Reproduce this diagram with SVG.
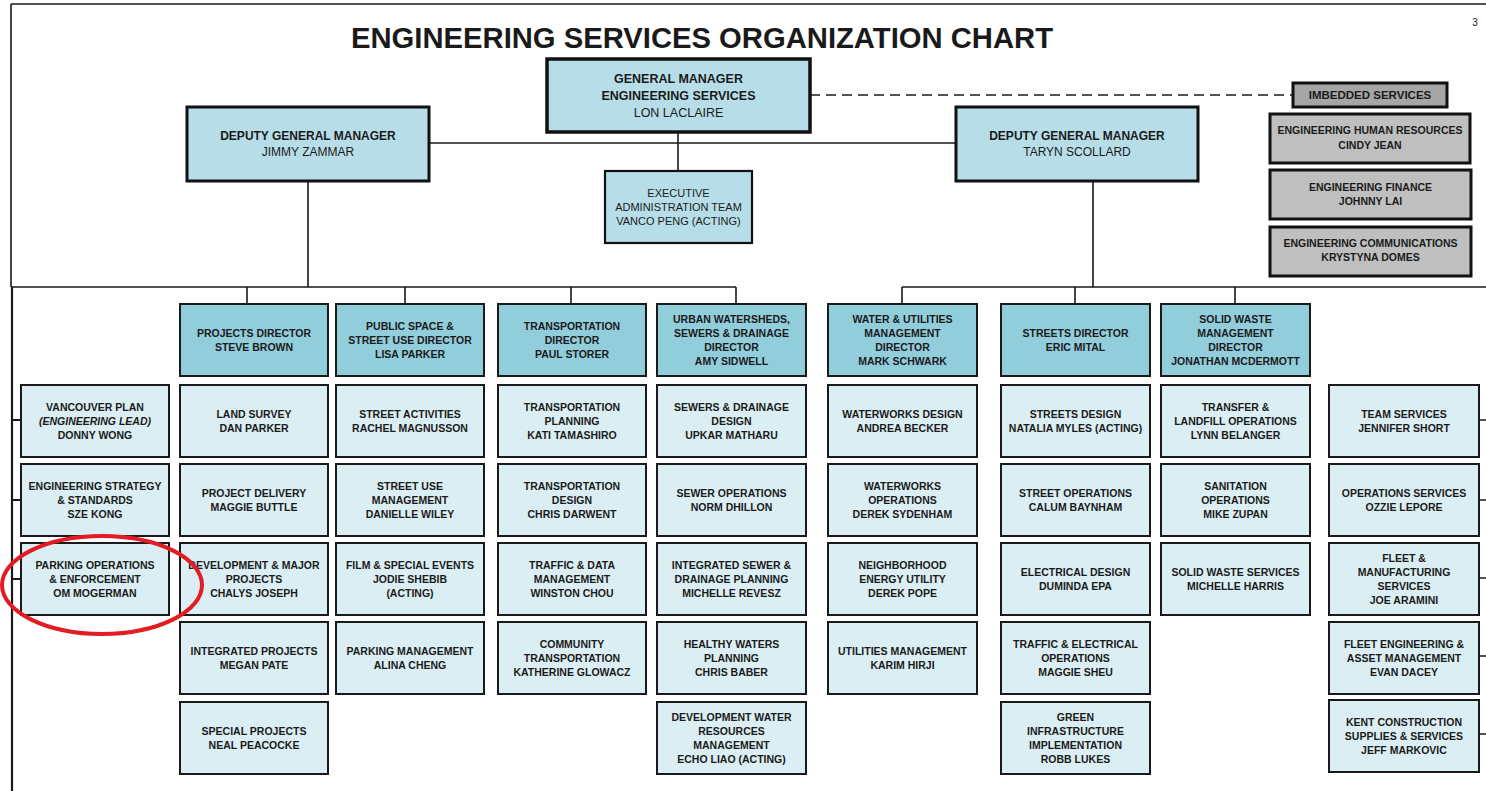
<svg xmlns="http://www.w3.org/2000/svg" width="1486" height="791" viewBox="0 0 1486 791">
<style>
text{font-family:"Liberation Sans",Arial,sans-serif;text-anchor:middle;fill:#1a1a1a}
.t{font-size:10.5px;font-weight:bold}
.dir{fill:#92cddc;stroke:#1a1a1a;stroke-width:2}
.sub{fill:#daeef3;stroke:#1a1a1a;stroke-width:2}
.top{fill:#b7dee8;stroke:#111;stroke-width:3}
.gray{fill:#bfbfbf;stroke:#111;stroke-width:3}
.ln{fill:none;stroke:#1a1a1a;stroke-width:1.6}
.hd{font-size:12.5px;font-weight:bold}
.hn{font-size:12.5px}
</style>
<rect width="1486" height="791" fill="#fff"/>
<text x="702" y="48" style="font-size:29px;font-weight:bold" textLength="702" lengthAdjust="spacingAndGlyphs">ENGINEERING SERVICES ORGANIZATION CHART</text>
<text x="1475" y="26" style="font-size:10px">3</text>
<g id="connectors">
<path class="ln" d="M11,4H1486M11,4V287M11,287H736M902,287H1486"/>
<path class="ln" style="stroke-width:2.2" d="M12,287V791M12,420H21M12,500H21M12,579H21"/>
<path class="ln" d="M247,287V304M405,287V304M571,287V304M736,287V304M902,287V304M1075,287V304M1235,287V304"/>
<path class="ln" d="M308,181V287M1093,181V287M429,143H956M678,132V171"/>
<path class="ln" d="M1479,420H1486M1479,500H1486M1479,578H1486M1479,656H1486M1479,734H1486"/>
<path class="ln" d="M810,95H1293" stroke-dasharray="10 6"/>
</g>
<g id="gm"><rect class="top" style="stroke-width:3.5" x="547" y="59" width="263" height="73"/>
<text class="hd" x="678.5" y="82.5">GENERAL MANAGER</text><text class="hd" x="678.5" y="99.5">ENGINEERING SERVICES</text><text class="hn" x="678.5" y="116.5">LON LACLAIRE</text></g>
<g id="dgm1"><rect class="top" x="187" y="107" width="242" height="74"/>
<text class="hd" style="font-size:12px" x="308" y="139.5">DEPUTY GENERAL MANAGER</text><text class="hn" style="font-size:12px" x="308" y="156">JIMMY ZAMMAR</text></g>
<g id="dgm2"><rect class="top" x="956" y="107" width="242" height="74"/>
<text class="hd" style="font-size:12px" x="1077" y="139.5">DEPUTY GENERAL MANAGER</text><text class="hn" style="font-size:12px" x="1077" y="156">TARYN SCOLLARD</text></g>
<g id="exec"><rect class="top" style="stroke-width:2.2" x="605" y="171" width="147" height="72"/>
<text style="font-size:11px" x="678.5" y="196.5">EXECUTIVE</text><text style="font-size:11px" x="678.5" y="210.5">ADMINISTRATION TEAM</text><text style="font-size:11px" x="678.5" y="224.5">VANCO PENG (ACTING)</text></g>
<g id="imbedded"><rect class="gray" style="fill:#a6a6a6" x="1293" y="83" width="154" height="24"/>
<text style="font-size:11.5px;font-weight:bold" x="1370" y="99">IMBEDDED SERVICES</text></g>
<g id="hr"><rect class="gray" x="1270" y="114" width="200" height="49"/>
<text class="t" x="1370" y="133.8">ENGINEERING HUMAN RESOURCES</text><text class="t" x="1370" y="148.8">CINDY JEAN</text></g>
<g id="finance"><rect class="gray" x="1270" y="170" width="201" height="49"/>
<text class="t" x="1370.5" y="191">ENGINEERING FINANCE</text><text class="t" x="1370.5" y="205">JOHNNY LAI</text></g>
<g id="comms"><rect class="gray" x="1270" y="227" width="201" height="49"/>
<text class="t" x="1370.5" y="246.8">ENGINEERING COMMUNICATIONS</text><text class="t" x="1370.5" y="261.3">KRYSTYNA DOMES</text></g>

<g id="d1"><rect class="dir" x="180" y="304" width="148" height="72"/><text class="t" x="254" y="336.8">PROJECTS DIRECTOR</text><text class="t" x="254" y="350.8">STEVE BROWN</text></g>
<g id="d2"><rect class="dir" x="336" y="304" width="148" height="72"/><text class="t" x="410" y="329.8">PUBLIC SPACE &amp;</text><text class="t" x="410" y="343.8">STREET USE DIRECTOR</text><text class="t" x="410" y="357.8">LISA PARKER</text></g>
<g id="d3"><rect class="dir" x="498" y="304" width="148" height="72"/><text class="t" x="572" y="329.8">TRANSPORTATION</text><text class="t" x="572" y="343.8">DIRECTOR</text><text class="t" x="572" y="357.8">PAUL STORER</text></g>
<g id="d4"><rect class="dir" x="657" y="304" width="149" height="72"/><text class="t" x="731.5" y="322.8">URBAN WATERSHEDS,</text><text class="t" x="731.5" y="336.8">SEWERS &amp; DRAINAGE</text><text class="t" x="731.5" y="350.8">DIRECTOR</text><text class="t" x="731.5" y="364.8">AMY SIDWELL</text></g>
<g id="d5"><rect class="dir" x="828" y="304" width="149" height="72"/><text class="t" x="902.5" y="322.8">WATER &amp; UTILITIES</text><text class="t" x="902.5" y="336.8">MANAGEMENT</text><text class="t" x="902.5" y="350.8">DIRECTOR</text><text class="t" x="902.5" y="364.8">MARK SCHWARK</text></g>
<g id="d6"><rect class="dir" x="1001" y="304" width="149" height="72"/><text class="t" x="1075.5" y="336.8">STREETS DIRECTOR</text><text class="t" x="1075.5" y="350.8">ERIC MITAL</text></g>
<g id="d7"><rect class="dir" x="1161" y="304" width="149" height="72"/><text class="t" x="1235.5" y="322.8">SOLID WASTE</text><text class="t" x="1235.5" y="336.8">MANAGEMENT</text><text class="t" x="1235.5" y="350.8">DIRECTOR</text><text class="t" x="1235.5" y="364.8">JONATHAN MCDERMOTT</text></g>

<g id="c0r1"><rect class="sub" x="21" y="385" width="148" height="72"/><text class="t" x="95" y="410.8">VANCOUVER PLAN</text><text class="t" x="95" y="424.8" font-style="italic">(ENGINEERING LEAD)</text><text class="t" x="95" y="438.8">DONNY WONG</text></g>
<g id="c0r2"><rect class="sub" x="21" y="464" width="148" height="72"/><text class="t" x="95" y="489.8">ENGINEERING STRATEGY</text><text class="t" x="95" y="503.8">&amp; STANDARDS</text><text class="t" x="95" y="517.8">SZE KONG</text></g>
<g id="c0r3"><rect class="sub" x="21" y="543" width="148" height="72"/><text class="t" x="95" y="568.8">PARKING OPERATIONS</text><text class="t" x="95" y="582.8">&amp; ENFORCEMENT</text><text class="t" x="95" y="596.8">OM MOGERMAN</text></g>

<g id="c1r1"><rect class="sub" x="180" y="385" width="148" height="72"/><text class="t" x="254" y="417.8">LAND SURVEY</text><text class="t" x="254" y="431.8">DAN PARKER</text></g>
<g id="c1r2"><rect class="sub" x="180" y="464" width="148" height="72"/><text class="t" x="254" y="496.8">PROJECT DELIVERY</text><text class="t" x="254" y="510.8">MAGGIE BUTTLE</text></g>
<g id="c1r3"><rect class="sub" x="180" y="543" width="148" height="72"/><text class="t" x="254" y="568.8">DEVELOPMENT &amp; MAJOR</text><text class="t" x="254" y="582.8">PROJECTS</text><text class="t" x="254" y="596.8">CHALYS JOSEPH</text></g>
<g id="c1r4"><rect class="sub" x="180" y="622" width="148" height="72"/><text class="t" x="254" y="654.8">INTEGRATED PROJECTS</text><text class="t" x="254" y="668.8">MEGAN PATE</text></g>
<g id="c1r5"><rect class="sub" x="180" y="702" width="148" height="72"/><text class="t" x="254" y="734.8">SPECIAL PROJECTS</text><text class="t" x="254" y="748.8">NEAL PEACOCKE</text></g>

<g id="c2r1"><rect class="sub" x="336" y="385" width="148" height="72"/><text class="t" x="410" y="417.8">STREET ACTIVITIES</text><text class="t" x="410" y="431.8">RACHEL MAGNUSSON</text></g>
<g id="c2r2"><rect class="sub" x="336" y="464" width="148" height="72"/><text class="t" x="410" y="489.8">STREET USE</text><text class="t" x="410" y="503.8">MANAGEMENT</text><text class="t" x="410" y="517.8">DANIELLE WILEY</text></g>
<g id="c2r3"><rect class="sub" x="336" y="543" width="148" height="72"/><text class="t" x="410" y="568.8">FILM &amp; SPECIAL EVENTS</text><text class="t" x="410" y="582.8">JODIE SHEBIB</text><text class="t" x="410" y="596.8">(ACTING)</text></g>
<g id="c2r4"><rect class="sub" x="336" y="622" width="148" height="72"/><text class="t" x="410" y="654.8">PARKING MANAGEMENT</text><text class="t" x="410" y="668.8">ALINA CHENG</text></g>

<g id="c3r1"><rect class="sub" x="498" y="385" width="148" height="72"/><text class="t" x="572" y="410.8">TRANSPORTATION</text><text class="t" x="572" y="424.8">PLANNING</text><text class="t" x="572" y="438.8">KATI TAMASHIRO</text></g>
<g id="c3r2"><rect class="sub" x="498" y="464" width="148" height="72"/><text class="t" x="572" y="489.8">TRANSPORTATION</text><text class="t" x="572" y="503.8">DESIGN</text><text class="t" x="572" y="517.8">CHRIS DARWENT</text></g>
<g id="c3r3"><rect class="sub" x="498" y="543" width="148" height="72"/><text class="t" x="572" y="568.8">TRAFFIC &amp; DATA</text><text class="t" x="572" y="582.8">MANAGEMENT</text><text class="t" x="572" y="596.8">WINSTON CHOU</text></g>
<g id="c3r4"><rect class="sub" x="498" y="622" width="148" height="72"/><text class="t" x="572" y="647.8">COMMUNITY</text><text class="t" x="572" y="661.8">TRANSPORTATION</text><text class="t" x="572" y="675.8">KATHERINE GLOWACZ</text></g>

<g id="c4r1"><rect class="sub" x="657" y="385" width="149" height="72"/><text class="t" x="731.5" y="410.8">SEWERS &amp; DRAINAGE</text><text class="t" x="731.5" y="424.8">DESIGN</text><text class="t" x="731.5" y="438.8">UPKAR MATHARU</text></g>
<g id="c4r2"><rect class="sub" x="657" y="464" width="149" height="72"/><text class="t" x="731.5" y="496.8">SEWER OPERATIONS</text><text class="t" x="731.5" y="510.8">NORM DHILLON</text></g>
<g id="c4r3"><rect class="sub" x="657" y="543" width="149" height="72"/><text class="t" x="731.5" y="568.8">INTEGRATED SEWER &amp;</text><text class="t" x="731.5" y="582.8">DRAINAGE PLANNING</text><text class="t" x="731.5" y="596.8">MICHELLE REVESZ</text></g>
<g id="c4r4"><rect class="sub" x="657" y="622" width="149" height="72"/><text class="t" x="731.5" y="647.8">HEALTHY WATERS</text><text class="t" x="731.5" y="661.8">PLANNING</text><text class="t" x="731.5" y="675.8">CHRIS BABER</text></g>
<g id="c4r5"><rect class="sub" x="657" y="702" width="149" height="72"/><text class="t" x="731.5" y="720.8">DEVELOPMENT WATER</text><text class="t" x="731.5" y="734.8">RESOURCES</text><text class="t" x="731.5" y="748.8">MANAGEMENT</text><text class="t" x="731.5" y="762.8">ECHO LIAO (ACTING)</text></g>

<g id="c5r1"><rect class="sub" x="828" y="385" width="149" height="72"/><text class="t" x="902.5" y="417.8">WATERWORKS DESIGN</text><text class="t" x="902.5" y="431.8">ANDREA BECKER</text></g>
<g id="c5r2"><rect class="sub" x="828" y="464" width="149" height="72"/><text class="t" x="902.5" y="489.8">WATERWORKS</text><text class="t" x="902.5" y="503.8">OPERATIONS</text><text class="t" x="902.5" y="517.8">DEREK SYDENHAM</text></g>
<g id="c5r3"><rect class="sub" x="828" y="543" width="149" height="72"/><text class="t" x="902.5" y="568.8">NEIGHBORHOOD</text><text class="t" x="902.5" y="582.8">ENERGY UTILITY</text><text class="t" x="902.5" y="596.8">DEREK POPE</text></g>
<g id="c5r4"><rect class="sub" x="828" y="622" width="149" height="72"/><text class="t" x="902.5" y="654.8">UTILITIES MANAGEMENT</text><text class="t" x="902.5" y="668.8">KARIM HIRJI</text></g>

<g id="c6r1"><rect class="sub" x="1001" y="385" width="149" height="72"/><text class="t" x="1075.5" y="417.8">STREETS DESIGN</text><text class="t" x="1075.5" y="431.8">NATALIA MYLES (ACTING)</text></g>
<g id="c6r2"><rect class="sub" x="1001" y="464" width="149" height="72"/><text class="t" x="1075.5" y="496.8">STREET OPERATIONS</text><text class="t" x="1075.5" y="510.8">CALUM BAYNHAM</text></g>
<g id="c6r3"><rect class="sub" x="1001" y="543" width="149" height="72"/><text class="t" x="1075.5" y="575.8">ELECTRICAL DESIGN</text><text class="t" x="1075.5" y="589.8">DUMINDA EPA</text></g>
<g id="c6r4"><rect class="sub" x="1001" y="622" width="149" height="72"/><text class="t" x="1075.5" y="647.8">TRAFFIC &amp; ELECTRICAL</text><text class="t" x="1075.5" y="661.8">OPERATIONS</text><text class="t" x="1075.5" y="675.8">MAGGIE SHEU</text></g>
<g id="c6r5"><rect class="sub" x="1001" y="702" width="149" height="72"/><text class="t" x="1075.5" y="720.8">GREEN</text><text class="t" x="1075.5" y="734.8">INFRASTRUCTURE</text><text class="t" x="1075.5" y="748.8">IMPLEMENTATION</text><text class="t" x="1075.5" y="762.8">ROBB LUKES</text></g>

<g id="c7r1"><rect class="sub" x="1161" y="385" width="149" height="72"/><text class="t" x="1235.5" y="410.8">TRANSFER &amp;</text><text class="t" x="1235.5" y="424.8">LANDFILL OPERATIONS</text><text class="t" x="1235.5" y="438.8">LYNN BELANGER</text></g>
<g id="c7r2"><rect class="sub" x="1161" y="464" width="149" height="72"/><text class="t" x="1235.5" y="489.8">SANITATION</text><text class="t" x="1235.5" y="503.8">OPERATIONS</text><text class="t" x="1235.5" y="517.8">MIKE ZUPAN</text></g>
<g id="c7r3"><rect class="sub" x="1161" y="543" width="149" height="72"/><text class="t" x="1235.5" y="575.8">SOLID WASTE SERVICES</text><text class="t" x="1235.5" y="589.8">MICHELLE HARRIS</text></g>

<g id="c8r1"><rect class="sub" x="1329" y="385" width="150" height="72"/><text class="t" x="1404" y="417.8">TEAM SERVICES</text><text class="t" x="1404" y="431.8">JENNIFER SHORT</text></g>
<g id="c8r2"><rect class="sub" x="1329" y="464" width="150" height="72"/><text class="t" x="1404" y="496.8">OPERATIONS SERVICES</text><text class="t" x="1404" y="510.8">OZZIE LEPORE</text></g>
<g id="c8r3"><rect class="sub" x="1329" y="543" width="150" height="72"/><text class="t" x="1404" y="561.8">FLEET &amp;</text><text class="t" x="1404" y="575.8">MANUFACTURING</text><text class="t" x="1404" y="589.8">SERVICES</text><text class="t" x="1404" y="603.8">JOE ARAMINI</text></g>
<g id="c8r4"><rect class="sub" x="1329" y="622" width="150" height="72"/><text class="t" x="1404" y="647.8">FLEET ENGINEERING &amp;</text><text class="t" x="1404" y="661.8">ASSET MANAGEMENT</text><text class="t" x="1404" y="675.8">EVAN DACEY</text></g>
<g id="c8r5"><rect class="sub" x="1329" y="700" width="150" height="72"/><text class="t" x="1404" y="725.8">KENT CONSTRUCTION</text><text class="t" x="1404" y="739.8">SUPPLIES &amp; SERVICES</text><text class="t" x="1404" y="753.8">JEFF MARKOVIC</text></g>

<ellipse cx="102" cy="585" rx="100" ry="49" fill="none" stroke="#e31b23" stroke-width="4"/>
</svg>
